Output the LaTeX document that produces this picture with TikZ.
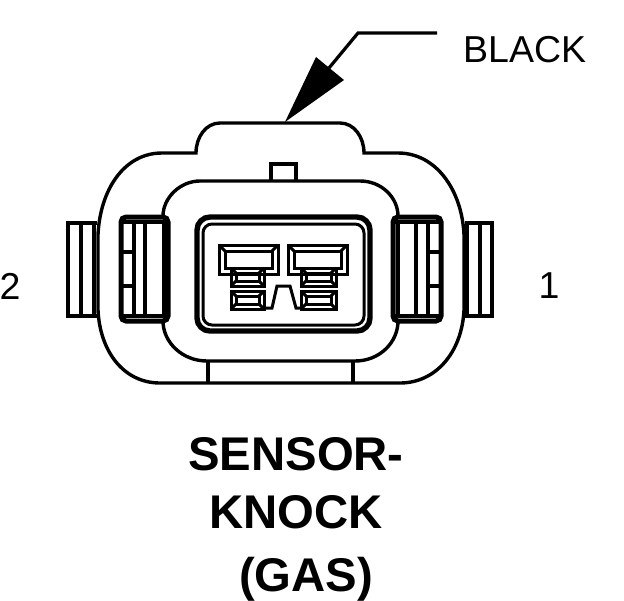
\documentclass[tikz,border=0pt]{standalone}
\usepackage{fontspec}
\setmainfont{Liberation Sans}
\begin{document}
\begin{tikzpicture}[
  x=1pt, y=-1pt,
  body/.style={draw, line width=3.4pt},
  thin part/.style={draw, line width=3.2pt},
  heavy/.style={draw, line width=5pt, rounded corners=5pt},
  pin/.style={draw, line width=3pt, line join=miter},
  label/.style={font=\fontsize{37.5}{37.5}\selectfont, inner sep=0pt},
  title/.style={font=\fontsize{47.3}{47.3}\selectfont\bfseries, inner sep=0pt}
]
\useasboundingbox (0,0) rectangle (624,600);

% Outer housing
\draw[body] (220,123) -- (340,123) .. controls (354,123) and (364,137) .. (364,153)
  -- (398,153) .. controls (436,153) and (462,190) .. (464,235)
  -- (464,310) .. controls (462,352) and (436,383) .. (400,383)
  -- (160,383) .. controls (124,383) and (100,352) .. (98,310)
  -- (98,235) .. controls (100,190) and (124,153) .. (162,153)
  -- (196,153) .. controls (196,137) and (206,123) .. (220,123) -- cycle;

% Inner housing
\draw[body] (200,181) -- (360,181) .. controls (382,181) and (398,198) .. (398,216);
\draw[body] (398,321) .. controls (398,342) and (380,361) .. (355,361)
  -- (207,361) .. controls (182,361) and (163,342) .. (163,321);
\draw[body] (163,216) .. controls (163,198) and (180,181) .. (200,181);
\draw[body] (208,361) -- (208,383);
\draw[body] (353,361) -- (353,383);
\draw[body] (271,181) -- (271,164) -- (296,164) -- (296,181);

% Left tabs
\draw[thin part] (97,223) -- (68,223) -- (68,316) -- (97,316);
\draw[thin part] (81,223) -- (81,316);
\draw[thin part] (94,223) -- (94,316);
\draw[heavy] (121,217) rectangle (168,321);
\draw[thin part] (121,222) -- (168,222);
\draw[thin part] (121,316) -- (168,316);
\draw[thin part] (134,222) -- (134,316);
\draw[thin part] (145,222) -- (145,316);
\draw[thin part] (164,222) -- (164,316);
\draw[thin part] (121,252) -- (134,252);
\draw[thin part] (121,286) -- (134,286);

% Right tabs
\draw[thin part] (465,223) -- (492,223) -- (492,316) -- (465,316);
\draw[thin part] (480,223) -- (480,316);
\draw[thin part] (467,223) -- (467,316);
\draw[heavy] (393,217) rectangle (441,321);
\draw[thin part] (393,222) -- (441,222);
\draw[thin part] (393,316) -- (441,316);
\draw[thin part] (398,222) -- (398,316);
\draw[thin part] (416,222) -- (416,316);
\draw[thin part] (428,222) -- (428,316);
\draw[thin part] (428,252) -- (441,252);
\draw[thin part] (428,286) -- (441,286);

% Socket
\draw[line width=5.4pt, rounded corners=13pt] (197,217) rectangle (370,331);
\draw[line width=3pt, rounded corners=9pt] (203,224) rectangle (364,325);

% Terminals
\foreach \xa/\xb/\xc/\xd/\xe/\xf/\xg/\xh in {
  219/278/225/272/231/264/236/259,
  288/347/294/341/301/336/306/331} {
  \draw[pin] (\xa,245) rectangle (\xb,274);
  \draw[pin] (\xc,251) rectangle (\xd,268);
  \draw[pin] (\xa,245) -- (\xc,251) (\xb,245) -- (\xd,251);
  \draw[pin] (\xe,268) rectangle (\xf,286);
  \draw[pin] (\xg,273) rectangle (\xh,281);
  \draw[pin] (\xe,268) -- (\xg,273) (\xf,268) -- (\xh,273) (\xe,286) -- (\xg,281) (\xf,286) -- (\xh,281);
  \draw[pin] (\xe,291) rectangle (\xf,309);
  \draw[pin] (\xg,296) rectangle (\xh,304);
  \draw[pin] (\xe,291) -- (\xg,296) (\xf,291) -- (\xh,296) (\xe,309) -- (\xg,304) (\xf,309) -- (\xh,304);
}
\draw[pin] (264,308) -- (272,308) -- (277,286) -- (290,286) -- (296,308) -- (301,308);

% Leader
\node[label, anchor=west] (black) at (463,50) {BLACK};
\coordinate (leader end) at (437,33);
\coordinate (elbow) at (358,33);
\coordinate (tip) at (285,122);
\fill (tip) -- (316,57) -- (344,80) -- cycle;
\draw[line width=3.2pt] (leader end) -- (elbow) -- (329,68);

% Pin numbers
\node[label] (pin two) at (10,286) {2};
\node[label] (pin one) at (549,286) {1};

% Title
\node[title] (sensor) at (296,454) {SENSOR-};
\node[title, below of=sensor, node distance=58pt] (knock) {KNOCK};
\node[title, below of=knock, node distance=67pt, xshift=10pt] (gas) {(GAS)};

\end{tikzpicture}
\end{document}
